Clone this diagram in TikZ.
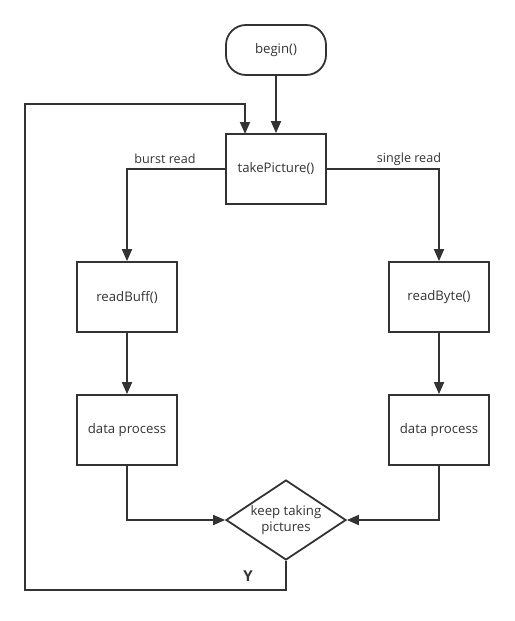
\documentclass[tikz,border=0pt]{standalone}
\usepackage{fontspec}
\setmainfont{Open Sans}
\usetikzlibrary{arrows.meta,shapes.geometric}
\definecolor{ink}{HTML}{333333}
\begin{document}
\begin{tikzpicture}[x=1pt,y=-1pt,
  every node/.style={text=ink,font=\fontsize{13.2}{16}\selectfont},
  box/.style={draw=ink,line width=1.8pt,minimum width=100pt,minimum height=70pt,inner sep=0pt},
  term/.style={draw=ink,line width=1.8pt,rounded corners=20pt,minimum width=100pt,minimum height=50pt,inner sep=0pt},
  dec/.style={draw=ink,line width=1.8pt,shape=diamond,minimum width=120pt,minimum height=80pt,inner sep=0pt,align=center,aspect=1.5},
  conn/.style={draw=ink,line width=1.8pt,-{Triangle[length=12pt,width=10pt]}},
  lbl/.style={font=\fontsize{12.6}{15}\selectfont}]
\useasboundingbox (0,0) rectangle (514,621);
\node[term] (begin) at (276,50) {begin()};
\node[box] (take) at (276,169) {takePicture()};
\node[box] (rbuff) at (127,297) {readBuff()};
\node[box] (rbyte) at (439,297) {readByte()};
\node[box] (dpl) at (127,430) {data process};
\node[box] (dpr) at (439,430) {data process};
\node[dec,font=\fontsize{13.2}{16}\selectfont] (keep) at (286,520) {keep taking\\pictures};
\coordinate (c1) at (286,590);
\coordinate (c2) at (25,590);
\coordinate (c3) at (25,104);
\coordinate (c4) at (245,104);
\coordinate (tin) at (245,134);
\draw[conn] (begin) -- (take);
\draw[conn] (take.west) -| (rbuff.north);
\draw[conn] (take.east) -| (rbyte.north);
\draw[conn] (rbuff) -- (dpl);
\draw[conn] (rbyte) -- (dpr);
\draw[conn] (dpl.south) |- (keep.west);
\draw[conn] (dpr.south) |- (keep.east);
\draw[conn] (keep.south) -- (c1) -- (c2) -- (c3) -- (c4) -- (tin);
\node[lbl] (lb) at (165,159) {burst read};
\node[lbl] (ls) at (409,159) {single read};
\node[font=\bfseries\fontsize{15}{18}\selectfont] (y) at (248,576) {Y};
\end{tikzpicture}
\end{document}
